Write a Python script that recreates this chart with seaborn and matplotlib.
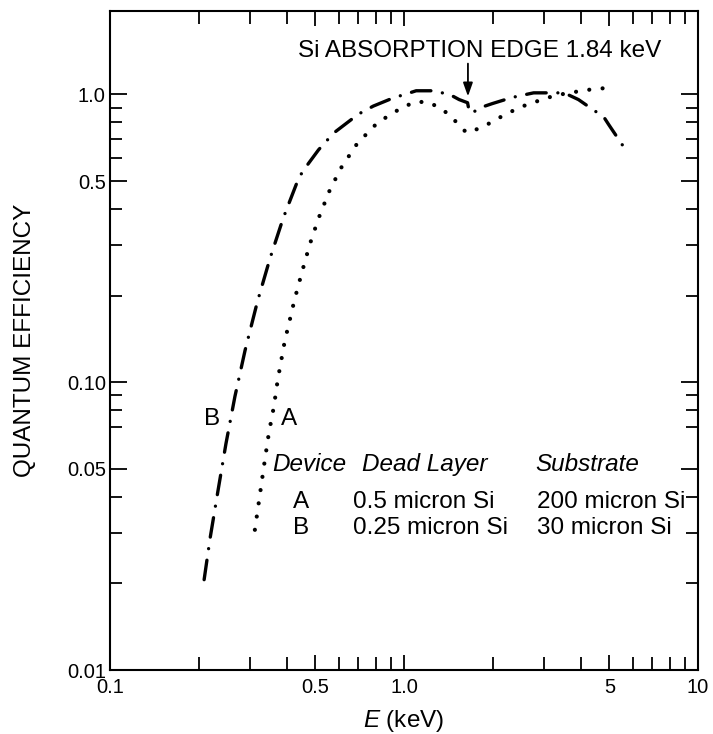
import numpy as np
import pandas as pd
import matplotlib
matplotlib.use("Agg")
import matplotlib.pyplot as plt
import matplotlib.ticker as mticker
import seaborn as sns

# ---- data ----
energy_a = [0.311, 0.326, 0.336, 0.347, 0.361, 0.372, 0.393, 0.413, 0.424, 0.448,
            0.478, 0.512, 0.556, 0.609, 0.693, 0.813, 0.99, 1.10, 1.21, 1.32,
            1.42, 1.52, 1.63, 1.81, 1.99, 2.18, 2.37, 2.63, 2.92, 3.21,
            3.55, 3.96, 4.47, 5.01]
qe_a = [0.0307, 0.043, 0.0534, 0.0666, 0.0824, 0.102, 0.139, 0.172, 0.193, 0.238,
        0.301, 0.371, 0.459, 0.553, 0.675, 0.798, 0.904, 0.943, 0.94, 0.90,
        0.853, 0.794, 0.737, 0.763, 0.802, 0.846, 0.882, 0.924, 0.956, 0.987,
        1.008, 1.027, 1.046, 1.054]

energy_b = [0.209, 0.219, 0.233, 0.248, 0.266, 0.288, 0.317, 0.35, 0.388, 0.438,
            0.456, 0.512, 0.544, 0.579, 0.668, 0.714, 0.786, 0.922, 1.005, 1.10,
            1.25, 1.43, 1.54, 1.645, 1.67, 1.75, 1.86, 2.0, 2.33, 2.54,
            2.76, 3.36, 3.6, 3.92, 4.46, 4.76, 4.96, 5.71]
qe_b = [0.0206, 0.0287, 0.042, 0.0612, 0.0892, 0.129, 0.190, 0.269, 0.371, 0.511,
        0.547, 0.642, 0.688, 0.737, 0.824, 0.864, 0.911, 0.974, 1.0, 1.03,
        1.03, 1.0, 0.96, 0.936, 0.864, 0.876, 0.907, 0.93, 0.976, 0.995,
        1.013, 1.013, 1.0, 0.96, 0.876, 0.841, 0.788, 0.636]

x_tick_values = [0.1, 0.5, 1.0, 5, 10]
x_tick_labels = ["0.1", "0.5", "1.0", "5", "10"]
x_minor_values = [0.2, 0.3, 0.4, 0.6, 0.7, 0.8, 0.9, 2, 3, 4, 6, 7, 8, 9]
y_tick_values = [0.01, 0.05, 0.1, 0.5, 1.0]
y_tick_labels = ["0.01", "0.05", "0.10", "0.5", "1.0"]
y_minor_values = [0.02, 0.03, 0.04, 0.07, 0.08, 0.09, 0.2, 0.3, 0.4, 0.6, 0.7, 0.8, 0.9]

table_header = ["Device", "Dead Layer", "Substrate"]
table_rows = [["A", "0.5 micron Si", "200 micron Si"],
              ["B", "0.25 micron Si", "30 micron Si"]]

# ---- style ----
sns.set_style("ticks")
plt.rcParams["font.family"] = ["Liberation Sans", "DejaVu Sans"]
plt.rcParams["text.color"] = "black"
plt.rcParams["axes.labelcolor"] = "black"
plt.rcParams["xtick.color"] = "black"
plt.rcParams["ytick.color"] = "black"
plt.rcParams["mathtext.fontset"] = "custom"
plt.rcParams["mathtext.it"] = "Liberation Sans:italic"
plt.rcParams["mathtext.rm"] = "Liberation Sans"

fig = plt.figure(figsize=(7.13, 7.34), dpi=100)
ax = fig.add_axes([110 / 713, 64 / 734, 588 / 713, 659 / 734])

df_a = pd.DataFrame({"E": energy_a, "QE": qe_a})
df_b = pd.DataFrame({"E": energy_b, "QE": qe_b})

sns.lineplot(data=df_b, x="E", y="QE", ax=ax, color="black", linewidth=2.4,
             sort=False, estimator=None)
line_b = ax.lines[-1]
line_b.set_dashes((5.9, 3.5, 0.01, 3.5))
line_b.set_dash_capstyle("round")

sns.lineplot(data=df_a, x="E", y="QE", ax=ax, color="black", linewidth=3.0,
             sort=False, estimator=None)
line_a = ax.lines[-1]
line_a.set_dashes((0.01, 3.2))
line_a.set_dash_capstyle("round")

ax.set_xscale("log")
ax.set_yscale("log")
ax.set_xlim(0.1, 10)
ax.set_ylim(0.01, 1.95)

ax.xaxis.set_major_locator(mticker.FixedLocator(x_tick_values))
ax.xaxis.set_major_formatter(mticker.FixedFormatter(x_tick_labels))
ax.xaxis.set_minor_locator(mticker.FixedLocator(x_minor_values))
ax.xaxis.set_minor_formatter(mticker.NullFormatter())
ax.yaxis.set_major_locator(mticker.FixedLocator(y_tick_values))
ax.yaxis.set_major_formatter(mticker.FixedFormatter(y_tick_labels))
ax.yaxis.set_minor_locator(mticker.FixedLocator(y_minor_values))
ax.yaxis.set_minor_formatter(mticker.NullFormatter())

ax.tick_params(axis="both", which="both", direction="in", top=True, right=True,
               color="black", width=1.3, labelsize=14.5, labelcolor="black")
ax.tick_params(axis="x", which="major", length=11, pad=6)
ax.tick_params(axis="x", which="minor", length=9.5)
ax.tick_params(axis="y", which="major", length=12.5, pad=3)
ax.tick_params(axis="y", which="minor", length=8.5)

for sp in ax.spines.values():
    sp.set_visible(True)
    sp.set_linewidth(1.5)
    sp.set_color("black")

ax.set_xlabel(r"$\mathit{E}$ (keV)", fontsize=17.5, color="black")
ax.xaxis.label.set_va("top")
ax.xaxis.set_label_coords(0.5, -0.058)
ax.set_ylabel("QUANTUM EFFICIENCY", fontsize=17.5, color="black")
ax.yaxis.set_label_coords(-0.145, 0.5)
ax.yaxis.label.set_va("center")

fs = 17.5
ax.text(0.435, 1.354, "Si ABSORPTION EDGE 1.84 keV", fontsize=fs, ha="left",
        va="baseline", color="black")
ax.annotate("", xy=(1.65, 0.985), xytext=(1.65, 1.28),
            arrowprops=dict(arrowstyle="-|>,head_length=0.45,head_width=0.16",
                            mutation_scale=18, color="black", lw=1.3,
                            shrinkA=0, shrinkB=0))

ax.text(0.223, 0.071, "B", fontsize=fs, ha="center", va="baseline", color="black")
ax.text(0.406, 0.071, "A", fontsize=fs, ha="center", va="baseline", color="black")

ax.text(0.355, 0.0492, table_header[0], fontsize=fs, style="italic", ha="left",
        va="baseline", color="black")
ax.text(0.717, 0.0492, table_header[1], fontsize=fs, style="italic", ha="left",
        va="baseline", color="black")
ax.text(2.79, 0.0492, table_header[2], fontsize=fs, style="italic", ha="left",
        va="baseline", color="black")

row_y = [0.0366, 0.0296]
for (dev, dead, sub), yv in zip(table_rows, row_y):
    ax.text(0.445, yv, dev, fontsize=fs, ha="center", va="baseline", color="black")
    ax.text(0.672, yv, dead, fontsize=fs, ha="left", va="baseline", color="black")
    ax.text(2.84, yv, sub, fontsize=fs, ha="left", va="baseline", color="black")

fig.savefig("out.png", dpi=100)
